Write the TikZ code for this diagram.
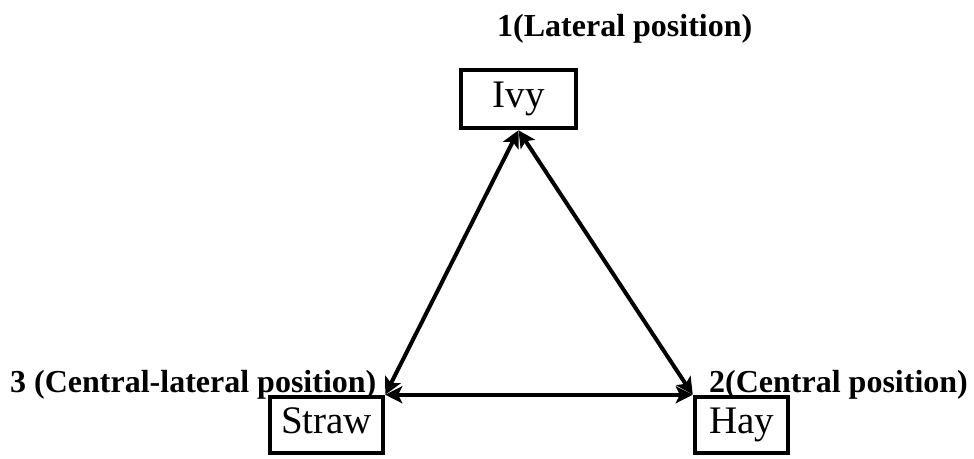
\documentclass[tikz,border=0pt]{standalone}
\usepackage{fontspec}
\setmainfont{Liberation Serif}
\usetikzlibrary{arrows.meta}
\begin{document}
\begin{tikzpicture}[x=1pt,y=1pt,
  box/.style={draw, line width=4.5pt, inner sep=0pt, font=\fontsize{39}{39}\selectfont, text height=27pt, text depth=10pt},
  lbl/.style={font=\bfseries\fontsize{32}{32}\selectfont, inner sep=0pt, anchor=base west},
  link/.style={line width=4pt, {Stealth[length=17pt,width=17pt,inset=4pt]}-{Stealth[length=17pt,width=17pt,inset=4pt]}}]
\useasboundingbox (0,0) rectangle (974,458);
\node[box, minimum width=115pt, minimum height=58pt] (ivy) at (518.5,359) {Ivy};
\node[box, minimum width=113pt, minimum height=56pt] (straw) at (326.5,33) {Straw};
\node[box, minimum width=93pt, minimum height=56pt] (hay) at (741.5,33) {Hay};
\node[lbl] (l1) at (497,421) {1(Lateral position)};
\node[lbl] (l3) at (10,66) {3 (Central-lateral position)};
\node[lbl] (l2) at (709,66) {2(Central position)};
\draw[link] (ivy.south) -- (straw.north east);
\draw[link] (ivy.south) -- (hay.north west);
\draw[link] (straw.north east) -- (hay.north west);
\end{tikzpicture}
\end{document}
